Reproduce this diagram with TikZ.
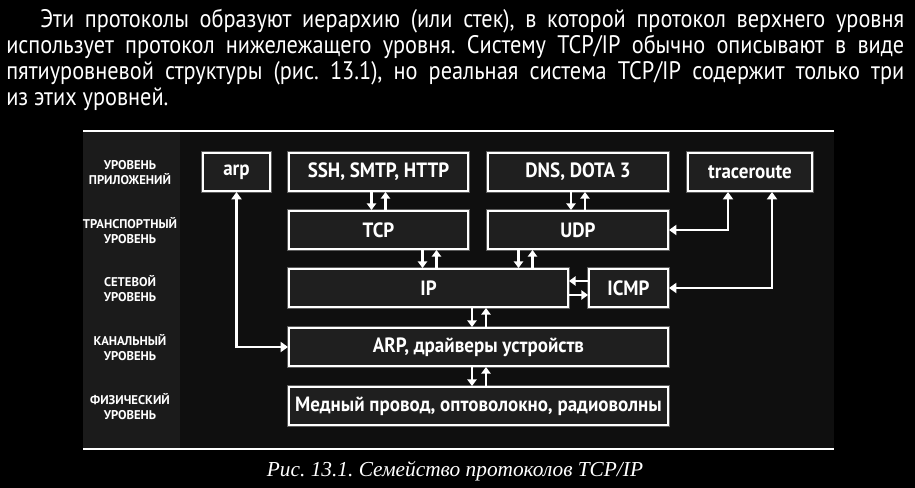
\documentclass[tikz,border=0pt]{standalone}
\usepackage{xcolor}
\usepackage{fontspec}
\setmainfont{Liberation Serif}
\newfontfamily\boxfont{PT Sans}[FakeStretch=0.92]
\newfontfamily\parafont{PT Sans}[FakeStretch=0.88]
\newfontfamily\layerfont{PT Sans}
\usetikzlibrary{arrows.meta, positioning, calc}
\frenchspacing

\definecolor{colgray}{HTML}{1B1B1B}
\definecolor{areagray}{HTML}{0F0F0F}
\definecolor{boxgray}{HTML}{1F1F1F}
\definecolor{glowgray}{HTML}{5A5A5A}

\begin{document}
\begin{tikzpicture}[x=0.75pt, y=-0.75pt,
    box/.style={draw=white, line width=1.5pt, fill=boxgray, minimum height=28.5pt, inner sep=0pt,
        text=white, font=\boxfont\bfseries\fontsize{15.5}{18}\selectfont,
        preaction={draw=glowgray, line width=3.2pt}},
    wd/.style={minimum width=#1*0.75pt},
    layer/.style={text=white, align=center, font=\layerfont\bfseries\fontsize{9.5}{11.25}\selectfont},
    paraline/.style={text=white, anchor=base west, inner sep=0pt, font=\parafont\fontsize{19}{19.5}\selectfont},
    tip/.style={draw=white, line width=1.8pt, -{Triangle[length=5pt, width=7pt]}},
    link/.style={draw=white, line width=1.8pt, {Triangle[length=5.5pt, width=7.5pt]}-{Triangle[length=5.5pt, width=7.5pt]}}
]
    \useasboundingbox (0,0) rectangle (915,488);
    \fill[black] (0,0) rectangle (915,488);

    % Text above the figure
    \node[paraline] (para1) at (40,28) {\makebox[648pt][s]{Эти протоколы образуют иерархию (или стек), в которой протокол верхнего уровня}};
    \node[paraline] (para2) at (6,54) {\makebox[673.5pt][s]{использует протокол нижележащего уровня. Систему TCP/IP обычно описывают в виде}};
    \node[paraline] (para3) at (6,80) {\makebox[673.5pt][s]{пятиуровневой структуры (рис. 13.1), но реальная система TCP/IP содержит только три}};
    \node[paraline] (para4) at (6,106) {из этих уровней.};

    % Frame
    \fill[colgray] (83,132) rectangle (180,449);
    \fill[areagray] (180,132) rectangle (834,449);
    \draw[white, line width=1.5pt] (83,131) -- (834,131);
    \draw[white, line width=1.5pt] (83,449.5) -- (834,449.5);

    % Layer names
    \node[layer] (lapp) at (130,173) {УРОВЕНЬ\\ПРИЛОЖЕНИЙ};
    \node[layer] (ltrans) at (130,231) {ТРАНСПОРТНЫЙ\\УРОВЕНЬ};
    \node[layer] (lnet) at (130,289) {СЕТЕВОЙ\\УРОВЕНЬ};
    \node[layer] (llink) at (130,348) {КАНАЛЬНЫЙ\\УРОВЕНЬ};
    \node[layer] (lphys) at (130,407) {ФИЗИЧЕСКИЙ\\УРОВЕНЬ};

    % Protocols
    \node[box, wd=67] (arp) at (236.5,172) {arp};
    \node[box, wd=179] (ssh) at (378.5,172) {SSH, SMTP, HTTP};
    \node[box, wd=180] (dns) at (578,172) {DNS, DOTA 3};
    \node[box, wd=124] (trace) at (750,172) {traceroute};
    \node[box, wd=179] (tcp) at (378.5,230) {TCP};
    \node[box, wd=180] (udp) at (578,230) {UDP};
    \node[box, wd=279] (ip) at (428.5,288) {IP};
    \node[box, wd=79] (icmp) at (628.5,288) {ICMP};
    \node[box, wd=379] (arpdrv) at (478.5,347) {ARP, драйверы устройств};
    \node[box, wd=379] (phys) at (478.5,406) {Медный провод, оптоволокно, радиоволны};

    % Up/down pairs between layers
    \foreach \u/\l/\x in {ssh/tcp/378.5, dns/udp/578, tcp/ip/429.5, udp/ip/525.5, ip/arpdrv/479, arpdrv/phys/479}{
        \coordinate (c) at (\x,0);
        \draw[tip] ($(\u.south -| c)+(-7,0)$) -- ($(\l.north -| c)+(-7,0)$);
        \draw[tip] ($(\l.north -| c)+(7,0)$) -- ($(\u.south -| c)+(7,0)$);
    }

    % IP <-> ICMP
    \draw[tip] ($(icmp.west)+(0,-7)$) -- ($(ip.east)+(0,-7)$);
    \draw[tip] ($(ip.east)+(0,7)$) -- ($(icmp.west)+(0,7)$);

    % Side links
    \draw[link] (udp.east) -| ($(trace.south)+(-22,0)$);
    \draw[link] (icmp.east) -| ($(trace.south)+(22,0)$);
    \draw[link] (arp.south) |- (arpdrv.west);

    % Caption
    \node[text=white, anchor=base, font=\itshape\fontsize{16}{19}\selectfont] (caption) at (455,477) {Рис. 13.1. Семейство протоколов TCP/IP};
\end{tikzpicture}
\end{document}
